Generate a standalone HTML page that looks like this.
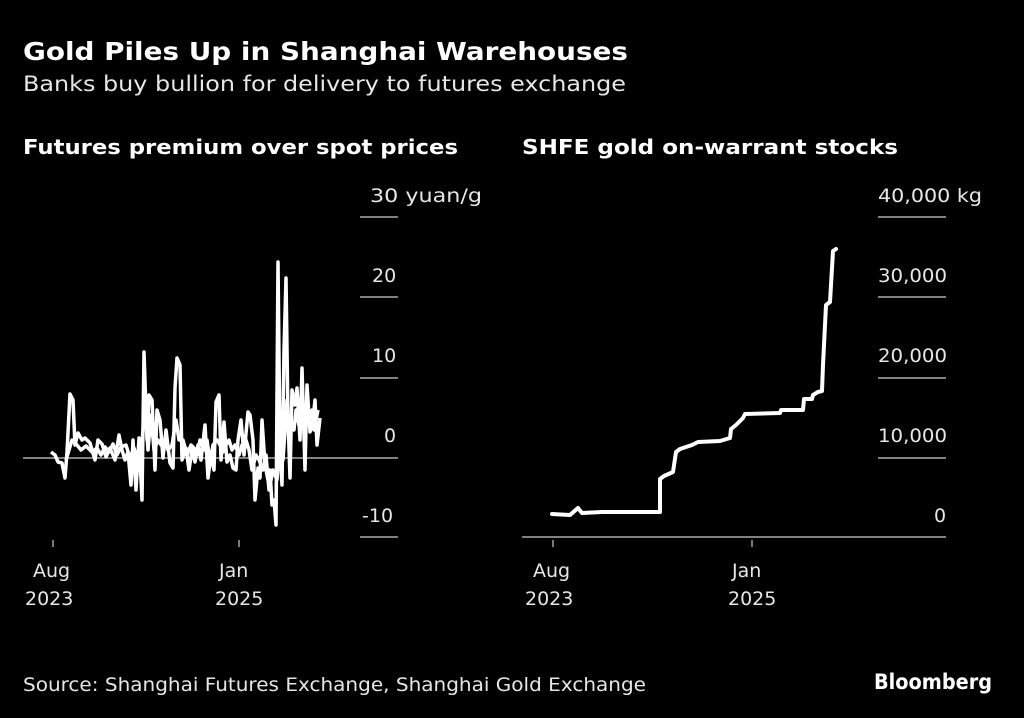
<!DOCTYPE html>
<html><head><meta charset="utf-8"><style>
html,body{margin:0;padding:0;background:#000;}
body{width:1024px;height:718px;overflow:hidden;}
</style></head><body>
<svg width="1024" height="718" xmlns="http://www.w3.org/2000/svg" style="display:block">
<rect width="1024" height="718" fill="#000"/>
<g font-family="DejaVu Sans, Liberation Sans, sans-serif" fill="#fff">
<text x="23" y="60" font-size="25" font-weight="bold" textLength="605" lengthAdjust="spacingAndGlyphs">Gold Piles Up in Shanghai Warehouses</text>
<text x="23" y="91" font-size="21" fill="#e6e6e6" textLength="603" lengthAdjust="spacingAndGlyphs">Banks buy bullion for delivery to futures exchange</text>
<text x="23" y="154" font-size="20" font-weight="bold" textLength="435" lengthAdjust="spacingAndGlyphs">Futures premium over spot prices</text>
<text x="522" y="154" font-size="20" font-weight="bold" textLength="376" lengthAdjust="spacingAndGlyphs">SHFE gold on-warrant stocks</text>
<g font-size="19" fill="#e6e6e6">
<text x="370" y="202" textLength="112" lengthAdjust="spacingAndGlyphs">30 yuan/g</text>
<text x="372" y="282">20</text>
<text x="372" y="362">10</text>
<text x="384" y="442">0</text>
<text x="362" y="522">-10</text>
<text x="878" y="202" textLength="104" lengthAdjust="spacingAndGlyphs">40,000 kg</text>
<text x="878" y="282" textLength="69" lengthAdjust="spacingAndGlyphs">30,000</text>
<text x="878" y="362" textLength="69" lengthAdjust="spacingAndGlyphs">20,000</text>
<text x="878" y="442" textLength="69" lengthAdjust="spacingAndGlyphs">10,000</text>
<text x="934" y="522">0</text>
<text x="33" y="577">Aug</text><text x="25" y="605">2023</text>
<text x="219" y="577">Jan</text><text x="215" y="605">2025</text>
<text x="533" y="577">Aug</text><text x="525" y="605">2023</text>
<text x="732" y="577">Jan</text><text x="728" y="605">2025</text>
</g>
<text x="23" y="691" font-size="19" fill="#e6e6e6" textLength="623" lengthAdjust="spacingAndGlyphs">Source: Shanghai Futures Exchange, Shanghai Gold Exchange</text>
<text x="874" y="689" font-size="21" font-weight="bold" textLength="118" lengthAdjust="spacingAndGlyphs">Bloomberg</text>
</g>
<g stroke="#ccc" stroke-width="1.2">
<line x1="360" y1="217" x2="398" y2="217"/><line x1="360" y1="297" x2="398" y2="297"/>
<line x1="360" y1="378" x2="398" y2="378"/><line x1="360" y1="537" x2="398" y2="537"/>
<line x1="23" y1="458" x2="398" y2="458"/>
<line x1="878" y1="217" x2="946" y2="217"/><line x1="878" y1="297" x2="946" y2="297"/>
<line x1="878" y1="378" x2="946" y2="378"/><line x1="878" y1="458" x2="946" y2="458"/>
<line x1="522" y1="537" x2="946" y2="537"/>
<line x1="53" y1="540" x2="53" y2="547"/><line x1="239" y1="540" x2="239" y2="547"/>
<line x1="553" y1="540" x2="553" y2="547"/><line x1="752" y1="540" x2="752" y2="547"/>
</g>
<g fill="none" stroke="#fff" stroke-width="3.5" stroke-linejoin="round">
<polyline points="51,452 55,455 58,462 62,463 65,478 67,452 70,394 73,400 75,445 78,433 82,440 85,438 90,443 95,460 98,440 102,444 106,457 110,448 115,460 119,435 122,450 125,460 128,452 131,485 133,440 136,490 139,438 142,500 144,352 147,440 149,395 152,400 155,470 157,410 160,420 163,458 166,430 170,463 173,468 175,388 177,358 180,365 182,460 186,448 189,470 192,450 195,462 198,445 201,460 205,425 208,478 211,455 214,470 216,402 219,395 221,460 224,422 227,462 230,455 233,468 236,470 238,440 241,420 244,455 248,412 250,415 253,440 255,500 258,468 260,478 262,420 265,465 268,480 270,470 272,505 274,500 276,525 278,262 280,450 282,485 284,350 286,278 288,420 290,478 292,390 295,405 297,388 300,440 302,368 305,470 307,385 310,432 313,420 315,400 317,445 320,418"/>
<polyline points="66,460 72,440 77,445 81,450 86,446 92,452 97,448 101,455 105,447 109,452 113,444 117,455 121,447 126,445 130,458 134,448 138,462 141,455 145,405 148,450 151,415 154,450 158,440 161,445 164,440 168,450 172,445 176,420 179,440 183,440 187,455 191,445 194,448 197,455 200,440 204,450 207,440 210,462 213,445 217,440 220,445 223,452 226,445 229,440 232,450 235,445 239,455 242,445 246,440 249,450 252,470 256,455 259,460 263,470 266,455 269,490 273,470 277,480 281,420 283,460 287,400 289,440 291,420 294,430 296,410 299,425 301,400 304,430 306,410 309,420 312,410 314,430 318,410"/>
</g>
<polyline fill="none" stroke="#fff" stroke-width="4" stroke-linejoin="round" stroke-linecap="round" points="552,514 570,515 578,508 582,513 602,512 660,512 660,479 664,476 673,472 676,452 680,449 692,445 698,442 720,441 730,438 731,429 736,425 743,418 745,414 780,413 781,410 803,410 804,399 812,399 813,395 818,392 822,391 823,365 826,305 830,302 833,251 836,249"/>
</svg>
</body></html>
